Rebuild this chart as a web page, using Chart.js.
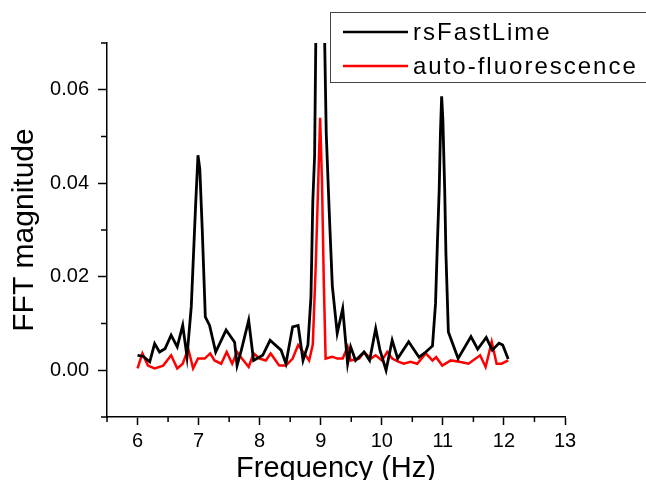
<!DOCTYPE html>
<html><head><meta charset="utf-8">
<script src="https://cdn.jsdelivr.net/npm/chart.js@4/dist/chart.umd.min.js"></script>
<style>html,body{margin:0;padding:0;background:#fff}</style>
</head><body>
<canvas id="c" width="646" height="480"></canvas>
<script>
const seriesNames = ['rsFastLime', 'auto-fluorescence'];
const freqBlack = [6.00,6.09,6.20,6.28,6.36,6.45,6.55,6.65,6.74,6.81,6.88,6.95,6.99,7.02,7.06,7.11,7.18,7.28,7.45,7.59,7.63,7.70,7.82,7.90,8.05,8.17,8.35,8.43,8.54,8.63,8.71,8.79,8.84,8.87,8.90,8.95,9.00,9.09,9.14,9.19,9.27,9.36,9.44,9.49,9.57,9.71,9.80,9.90,9.97,10.07,10.17,10.26,10.44,10.61,10.72,10.83,10.88,10.91,10.94,10.96,10.98,11.00,11.03,11.05,11.09,11.25,11.46,11.57,11.71,11.81,11.92,11.98,12.07];
const magBlack  = [0.0032,0.0030,0.0018,0.0057,0.0039,0.0046,0.0075,0.0050,0.0096,0.0029,0.0136,0.0350,0.0460,0.0430,0.0300,0.0114,0.0096,0.0039,0.0086,0.0060,0.0010,0.0043,0.0107,0.0021,0.0032,0.0064,0.0043,0.0014,0.0093,0.0096,0.0021,0.0054,0.0157,0.0360,0.0460,0.1100,0.1200,0.0507,0.0336,0.0180,0.0079,0.0132,0.0014,0.0050,0.0021,0.0039,0.0021,0.0089,0.0043,0.0000,0.0064,0.0025,0.0061,0.0028,0.0039,0.0052,0.0143,0.0270,0.0386,0.0507,0.0586,0.0536,0.0386,0.0250,0.0082,0.0025,0.0072,0.0045,0.0070,0.0043,0.0058,0.0054,0.0024];
const freqRed = [6.00,6.08,6.17,6.28,6.42,6.55,6.65,6.74,6.83,6.91,6.99,7.10,7.19,7.26,7.37,7.46,7.55,7.63,7.71,7.82,7.90,8.00,8.10,8.18,8.32,8.43,8.54,8.63,8.73,8.81,8.87,8.92,8.96,8.99,9.02,9.05,9.08,9.19,9.27,9.36,9.44,9.49,9.63,9.71,9.82,9.90,10.00,10.09,10.17,10.28,10.36,10.47,10.58,10.72,10.83,10.89,10.99,11.13,11.27,11.42,11.61,11.70,11.80,11.88,11.96,12.07];
const magRed  = [0.0004,0.0036,0.0010,0.0004,0.0010,0.0032,0.0004,0.0014,0.0046,0.0004,0.0025,0.0025,0.0036,0.0021,0.0014,0.0039,0.0014,0.0039,0.0025,0.0007,0.0036,0.0025,0.0021,0.0036,0.0010,0.0010,0.0025,0.0054,0.0036,0.0021,0.0055,0.0230,0.0407,0.0540,0.0407,0.0190,0.0025,0.0029,0.0025,0.0025,0.0050,0.0021,0.0025,0.0039,0.0025,0.0032,0.0021,0.0039,0.0025,0.0018,0.0014,0.0018,0.0014,0.0036,0.0021,0.0028,0.0010,0.0021,0.0018,0.0014,0.0032,0.0007,0.0061,0.0014,0.0014,0.0021];
const xTicks = [6,7,8,9,10,11,12,13];
const xMinor = [5.5,6.5,7.5,8.5,9.5,10.5,11.5,12.5];
const yTicks = [0.00,0.02,0.04,0.06];
const yMinor = [-0.01,0.01,0.03,0.05,0.07];
const xTitle = 'Frequency (Hz)';
const yTitle = 'FFT magnitude';

const FONT = '"Liberation Sans", Arial, sans-serif';
const toPts = (xs, ys) => xs.map((x, i) => ({x: x, y: ys[i]}));

const minorTicks = {
  id: 'minorTicks',
  afterDraw(chart) {
    const ctx = chart.ctx, xs = chart.scales.x, ys = chart.scales.y;
    ctx.save();
    ctx.strokeStyle = '#000';
    ctx.lineWidth = 1.5;
    ctx.beginPath();
    xMinor.forEach(v => { const p = xs.getPixelForValue(v); ctx.moveTo(p, xs.top); ctx.lineTo(p, xs.top + 5); });
    yMinor.forEach(v => { const p = ys.getPixelForValue(v); ctx.moveTo(ys.right, p); ctx.lineTo(ys.right - 6, p); });
    ctx.stroke();
    ctx.restore();
  }
};

const boxLegend = {
  id: 'boxLegend',
  afterDraw(chart) {
    const ctx = chart.ctx;
    const colors = ['#000000', '#ff0000'];
    const rows = [32, 66];
    ctx.save();
    ctx.strokeStyle = '#444';
    ctx.lineWidth = 1;
    ctx.strokeRect(330.5, 12.5, 320, 70);
    ctx.font = '24px ' + FONT;
    ctx.textBaseline = 'middle';
    ctx.textAlign = 'left';
    try { ctx.letterSpacing = '2px'; } catch (e) {}
    seriesNames.forEach((name, i) => {
      ctx.strokeStyle = colors[i];
      ctx.lineWidth = 2.5;
      ctx.beginPath();
      ctx.moveTo(343, rows[i]);
      ctx.lineTo(408, rows[i]);
      ctx.stroke();
      ctx.fillStyle = '#000';
      ctx.fillText(name, 413, rows[i] + 1);
    });
    ctx.restore();
  }
};

new Chart(document.getElementById('c'), {
  type: 'scatter',
  data: {
    datasets: [
      { label: seriesNames[0], data: toPts(freqBlack, magBlack), showLine: true, borderColor: '#000000', backgroundColor: '#000000', borderWidth: 2.8, pointRadius: 0, tension: 0 },
      { label: seriesNames[1], data: toPts(freqRed, magRed), showLine: true, borderColor: '#ff0000', backgroundColor: '#ff0000', borderWidth: 2.5, pointRadius: 0, tension: 0 }
    ]
  },
  options: {
    responsive: false,
    devicePixelRatio: 1,
    animation: false,
    events: [],
    layout: { padding: { top: 43, right: 81, left: 0, bottom: 0 } },
    plugins: { legend: { display: false }, tooltip: { enabled: false } },
    scales: {
      x: {
        type: 'linear', min: 5.5, max: 13,
        afterBuildTicks: s => { s.ticks = xTicks.map(v => ({value: v})); },
        afterFit: s => { s.height = 63; },
        grid: { drawOnChartArea: false, drawTicks: true, tickLength: 8, tickWidth: 1.5, tickColor: '#000' },
        border: { display: true, color: '#000', width: 1.5 },
        ticks: { color: '#000', font: { family: FONT, size: 20 }, padding: 4, maxRotation: 0, autoSkip: false, callback: v => String(v) },
        title: { display: true, text: xTitle, color: '#000', font: { family: FONT, size: 29, lineHeight: 0.75 }, padding: 0 }
      },
      y: {
        type: 'linear', min: -0.01, max: 0.07,
        afterBuildTicks: s => { s.ticks = yTicks.map(v => ({value: v})); },
        afterFit: s => { s.width = 107; },
        grid: { drawOnChartArea: false, drawTicks: true, tickLength: 9, tickWidth: 1.5, tickColor: '#000' },
        border: { display: true, color: '#000', width: 1.5 },
        ticks: { color: '#000', font: { family: FONT, size: 20 }, padding: 9, autoSkip: false, callback: v => Number(v).toFixed(2) },
        title: { display: true, text: yTitle, color: '#000', font: { family: FONT, size: 30, lineHeight: 1.2 }, padding: { top: 7, bottom: 0 } }
      }
    }
  },
  plugins: [minorTicks, boxLegend]
});
</script>
</body></html>
